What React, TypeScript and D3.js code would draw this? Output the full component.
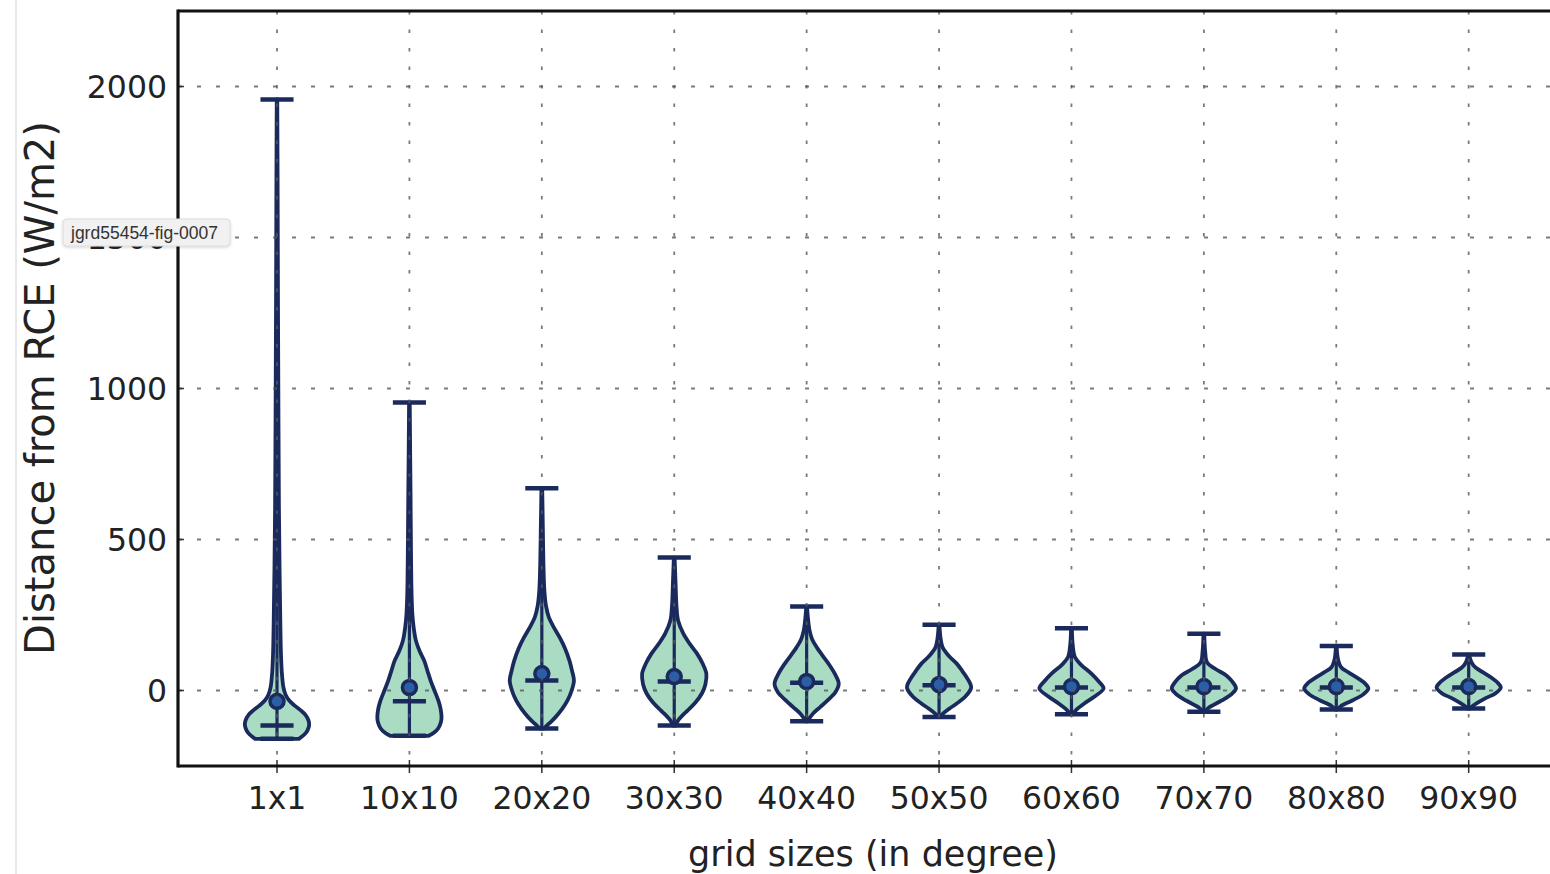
import React from 'react';
import * as d3 from 'd3';

const categories = ['1x1', '10x10', '20x20', '30x30', '40x40', '50x50', '60x60', '70x70', '80x80', '90x90'];
const maxVals = [1957, 954, 670, 440, 278, 218, 206, 188, 147, 119];
const minVals = [-160, -150, -126, -116, -102, -88, -79, -70, -63, -60];
const meanVals = [-36, 10, 56, 46, 30, 20, 13, 13, 13, 13];
const medianVals = [-116, -36, 33, 30, 26, 17, 10, 10, 10, 10];
const yTicks = [0, 500, 1000, 1500, 2000];

// density profiles: [value, relative half-width]
const profile1x1: [number, number][] = [[-160, 0.68], [-145, 0.86], [-132, 0.95], [-115, 1.0], [-99, 0.98], [-80, 0.88], [-66, 0.74], [-50, 0.55], [-33, 0.38], [-15, 0.27], [10, 0.2], [60, 0.15], [132, 0.12], [250, 0.1], [400, 0.08], [600, 0.06], [900, 0.045], [1300, 0.03], [1700, 0.018], [1957, 0.008]];
const profile10x10: [number, number][] = [[-150, 0.6], [-140, 0.76], [-125, 0.9], [-105, 0.98], [-89, 1.0], [-60, 0.97], [-33, 0.9], [0, 0.78], [33, 0.66], [66, 0.56], [99, 0.46], [130, 0.32], [166, 0.2], [210, 0.13], [255, 0.09], [330, 0.065], [450, 0.05], [650, 0.035], [800, 0.022], [954, 0.01]];
const profile20x20: [number, number][] = [[-126, 0.06], [-110, 0.22], [-89, 0.42], [-60, 0.64], [-33, 0.8], [0, 0.93], [33, 1.0], [66, 0.94], [99, 0.86], [140, 0.72], [175, 0.56], [210, 0.37], [242, 0.22], [280, 0.13], [330, 0.08], [420, 0.05], [550, 0.03], [670, 0.012]];
const profile30x30: [number, number][] = [[-116, 0.04], [-99, 0.12], [-80, 0.28], [-66, 0.42], [-40, 0.66], [-10, 0.86], [20, 0.97], [56, 1.0], [90, 0.88], [122, 0.71], [155, 0.48], [189, 0.28], [232, 0.12], [280, 0.07], [360, 0.04], [440, 0.012]];
const profile40x40: [number, number][] = [[-102, 0.03], [-90, 0.1], [-76, 0.2], [-55, 0.42], [-33, 0.65], [-5, 0.9], [23, 1.0], [55, 0.88], [89, 0.68], [115, 0.5], [142, 0.32], [170, 0.17], [199, 0.09], [240, 0.04], [278, 0.012]];
const profile50x50: [number, number][] = [[-88, 0.03], [-76, 0.13], [-60, 0.32], [-43, 0.55], [-20, 0.82], [10, 1.0], [40, 0.88], [65, 0.72], [89, 0.55], [115, 0.3], [143, 0.11], [180, 0.04], [218, 0.012]];
const profile60x60: [number, number][] = [[-79, 0.03], [-65, 0.14], [-43, 0.4], [-20, 0.72], [7, 1.0], [30, 0.85], [56, 0.62], [85, 0.3], [110, 0.11], [150, 0.04], [206, 0.012]];
const profile70x70: [number, number][] = [[-70, 0.03], [-58, 0.14], [-33, 0.56], [-10, 0.88], [7, 1.0], [30, 0.88], [50, 0.7], [72, 0.35], [93, 0.1], [130, 0.04], [188, 0.012]];
const profile80x80: [number, number][] = [[-63, 0.03], [-52, 0.14], [-33, 0.5], [-12, 0.85], [7, 1.0], [25, 0.88], [40, 0.68], [60, 0.38], [77, 0.15], [105, 0.05], [147, 0.012]];
const profile90x90: [number, number][] = [[-60, 0.03], [-50, 0.14], [-27, 0.5], [-8, 0.85], [10, 1.0], [28, 0.88], [43, 0.7], [60, 0.45], [77, 0.2], [95, 0.08], [119, 0.012]];
const profiles = [profile1x1, profile10x10, profile20x20, profile30x30, profile40x40, profile50x50, profile60x60, profile70x70, profile80x80, profile90x90];

const FILL = '#a9dcc3';
const NAVY = '#1b2a5c';
const DOT = '#2a5ea8';
const GRID = '#5a5a5a';
const FONT = "'DejaVu Sans', sans-serif";

export default function App() {
  const W = 1550, H = 874;
  const left = 178, top = 11, bottom = 766;
  const x = d3.scaleLinear().domain([0.25, 10.75]).range([177.7, 1568]);
  const y = d3.scaleLinear().domain([-250, 2250]).range([bottom, top]);
  const halfW = x(1.25) - x(1) - 1;
  const capW = x(1.125) - x(1);

  return (
    <svg width={W} height={H} style={{ position: 'fixed', left: 0, top: 0, background: '#fff' }}>
      <defs>
        <clipPath id="plot">
          <rect x={left} y={top} width={W - left} height={bottom - top} />
        </clipPath>
        <filter id="sh" x="-10%" y="-30%" width="120%" height="160%">
          <feDropShadow dx="0" dy="1" stdDeviation="1.5" floodColor="#000" floodOpacity="0.18" />
        </filter>
      </defs>
      <rect x={0} y={0} width={W} height={H} fill="#fff" />
      <line x1={16} x2={16} y1={0} y2={H} stroke="#e2e2e2" strokeWidth={1.5} />

      <g clipPath="url(#plot)">
        {profiles.map((p, i) => {
          const cx = x(i + 1);
          const area = d3.area<[number, number]>()
            .y(d => y(d[0]))
            .x0(d => cx - d[1] * halfW)
            .x1(d => cx + d[1] * halfW)
            .curve(d3.curveCatmullRom.alpha(0.5));
          return (
            <g key={categories[i]}>
              <path d={area(p) || ''} fill={FILL} stroke={NAVY} strokeWidth={3.8} strokeLinejoin="round" />
              <line x1={cx} x2={cx} y1={y(minVals[i])} y2={y(maxVals[i])} stroke={NAVY} strokeWidth={3.2} />
              <line x1={cx - capW} x2={cx + capW} y1={y(maxVals[i])} y2={y(maxVals[i])} stroke={NAVY} strokeWidth={4.5} />
              <line x1={cx - capW} x2={cx + capW} y1={y(minVals[i])} y2={y(minVals[i])} stroke={NAVY} strokeWidth={4.5} />
              <line x1={cx - capW} x2={cx + capW} y1={y(medianVals[i])} y2={y(medianVals[i])} stroke={NAVY} strokeWidth={4.5} />
              <circle cx={cx} cy={y(meanVals[i])} r={7} fill={DOT} stroke={NAVY} strokeWidth={3.5} />
            </g>
          );
        })}
        {categories.map((c, i) => (
          <line key={'gx' + c} x1={x(i + 1)} x2={x(i + 1)} y1={top} y2={bottom} stroke={GRID} strokeWidth={1.8} strokeDasharray="3.5,15" opacity={0.8} />
        ))}
        {yTicks.map(t => (
          <line key={'gy' + t} x1={left} x2={W} y1={y(t)} y2={y(t)} stroke={GRID} strokeWidth={1.8} strokeDasharray="4,15" opacity={0.8} />
        ))}
        {categories.map((c, i) => (
          <line key={'tx' + c} x1={x(i + 1)} x2={x(i + 1)} y1={bottom - 6} y2={bottom} stroke="#333" strokeWidth={1.5} />
        ))}
        {yTicks.map(t => (
          <line key={'ty' + t} x1={left} x2={left + 6} y1={y(t)} y2={y(t)} stroke="#333" strokeWidth={1.5} />
        ))}
      </g>

      {categories.map((c, i) => (
        <line key={'txo' + c} x1={x(i + 1)} x2={x(i + 1)} y1={bottom} y2={bottom + 7} stroke="#333" strokeWidth={1.5} />
      ))}

      {/* spines */}
      <line x1={left} x2={W} y1={top} y2={top} stroke="#111" strokeWidth={3.2} />
      <line x1={left} x2={W} y1={bottom} y2={bottom} stroke="#111" strokeWidth={3.2} />
      <line x1={left} x2={left} y1={top - 1.6} y2={bottom + 1.6} stroke="#111" strokeWidth={3.2} />

      {/* tick labels */}
      {categories.map((c, i) => (
        <text key={'lx' + c} x={x(i + 1)} y={809} textAnchor="middle" fontFamily={FONT} fontSize={31.5} fill="#222">{c}</text>
      ))}
      {yTicks.map(t => (
        <text key={'ly' + t} x={167} y={y(t)} dy="0.36em" textAnchor="end" fontFamily={FONT} fontSize={31.5} fill="#222">{t}</text>
      ))}

      <text x={873} y={866} textAnchor="middle" fontFamily={FONT} fontSize={35} fill="#222">grid sizes (in degree)</text>
      <text transform={`translate(54,388) rotate(-90)`} textAnchor="middle" fontFamily={FONT} fontSize={40} fill="#222">Distance from RCE (W/m2)</text>

      {/* overlay label */}
      <g filter="url(#sh)">
        <rect x={63} y={219} width={167} height={27} rx={4} fill="#f1f1f1" stroke="#dcdcdc" strokeWidth={1} />
      </g>
      <text x={71} y={238.5} fontFamily="'Liberation Sans', Arial, sans-serif" fontSize={17.5} fill="#333">jgrd55454-fig-0007</text>
    </svg>
  );
}
